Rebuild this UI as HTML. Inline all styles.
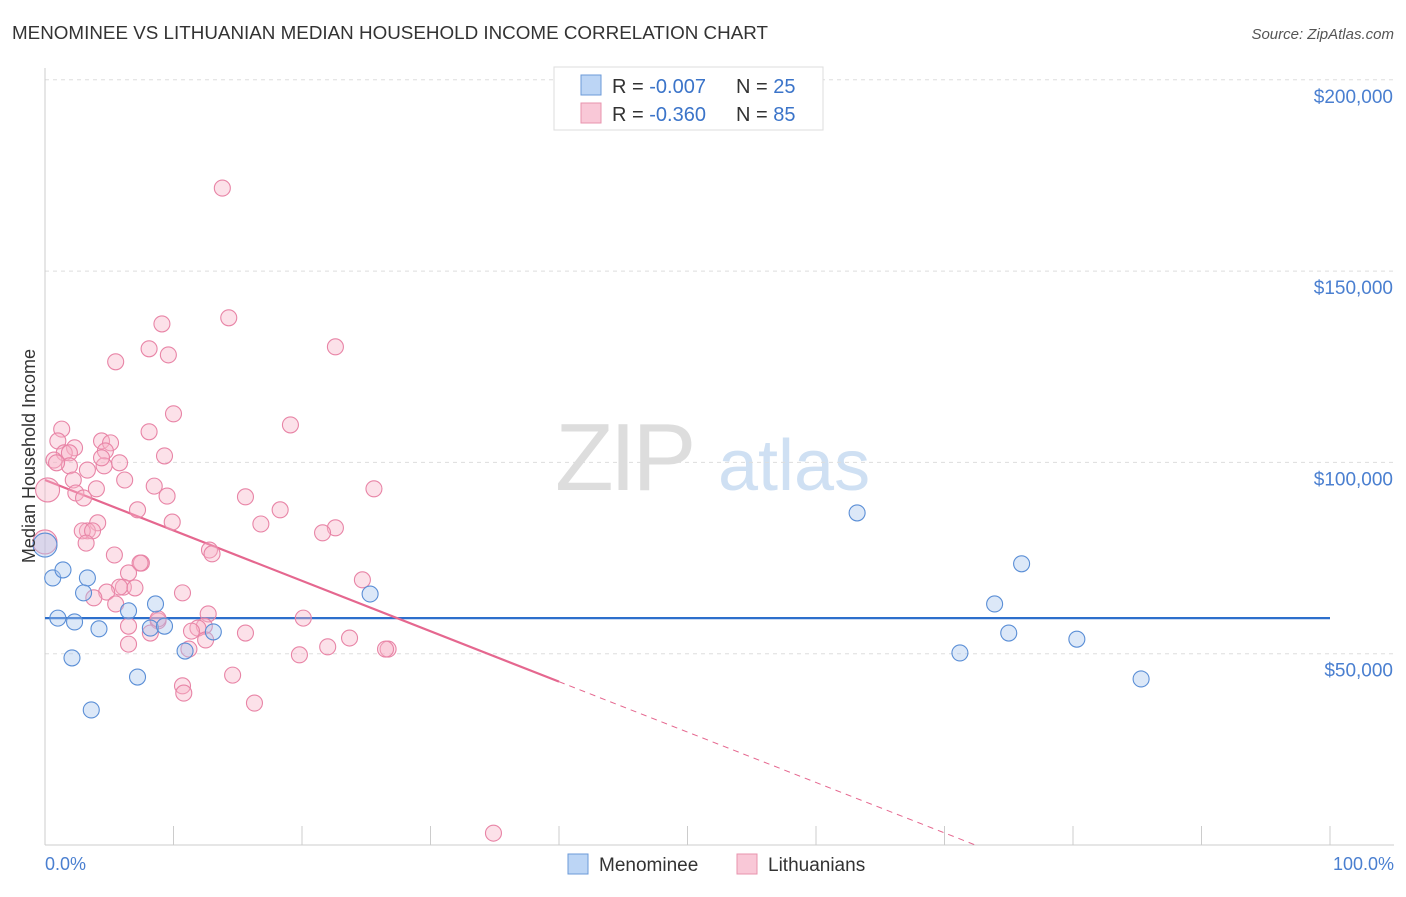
<!DOCTYPE html>
<html><head><meta charset="utf-8"><style>
body{margin:0;background:#fff;font-family:"Liberation Sans",sans-serif}
svg text{font-family:"Liberation Sans",sans-serif}
</style></head><body>
<svg id="chart" width="1406" height="892" viewBox="0 0 1406 892" xmlns="http://www.w3.org/2000/svg">
<text x="12" y="39" font-size="18" fill="#333" textLength="756" lengthAdjust="spacingAndGlyphs">MENOMINEE VS LITHUANIAN MEDIAN HOUSEHOLD INCOME CORRELATION CHART</text>
<text x="1394" y="39" font-size="15" fill="#555" font-style="italic" text-anchor="end">Source: ZipAtlas.com</text>
<g><text x="555" y="490" font-size="96" fill="#ddd" font-family="Liberation Serif" letter-spacing="-4">ZIP</text><text x="718" y="490" font-size="72" fill="#cfe0f3">atlas</text></g>
<g id="grid"></g>
<g id="axes"></g>
<g id="lines"></g>
<g id="pts"></g>
<text x="35" y="456" font-size="18" fill="#333" text-anchor="middle" transform="rotate(-90 35 456)">Median Household Income</text>
<text x="45" y="870" font-size="18" fill="#4a7fd0">0.0%</text>
<text x="1394" y="870" font-size="18" fill="#4a7fd0" text-anchor="end">100.0%</text>
<g>
<rect x="554" y="67" width="269" height="63" fill="#fff" stroke="#ddd"/>
<rect x="581" y="75" width="20" height="20" fill="#bcd5f5" stroke="#6b9ad8"/>
<rect x="581" y="103" width="20" height="20" fill="#f9c8d7" stroke="#e893ae"/>
<text x="612" y="93" font-size="20" fill="#333">R = <tspan fill="#3b74c9">-0.007</tspan></text>
<text x="736" y="93" font-size="20" fill="#333">N = <tspan fill="#3b74c9">25</tspan></text>
<text x="612" y="121" font-size="20" fill="#333">R = <tspan fill="#3b74c9">-0.360</tspan></text>
<text x="736" y="121" font-size="20" fill="#333">N = <tspan fill="#3b74c9">85</tspan></text>
</g>
<g>
<rect x="568" y="854" width="20" height="20" fill="#bcd5f5" stroke="#6b9ad8"/>
<text x="599" y="871" font-size="19" fill="#333">Menominee</text>
<rect x="737" y="854" width="20" height="20" fill="#f9c8d7" stroke="#e893ae"/>
<text x="768" y="871" font-size="19" fill="#333">Lithuanians</text>
</g>
</svg>
<script>
const yTicks=[50000,100000,150000,200000];
const yTickLabels=["$50,000","$100,000","$150,000","$200,000"];
const xTicks=[0,10,20,30,40,50,60,70,80,90,100];
const blueX=[0,0.6,1.4,1.0,2.3,2.1,3.3,3.0,4.2,3.6,6.5,7.2,8.6,8.2,9.3,10.9,13.1,25.3,63.2,71.2,73.9,75.0,76.0,80.3,85.3];
const blueY=[78.4,69.8,71.9,59.3,58.3,48.9,69.8,65.9,56.5,35.3,61.2,43.9,63.0,56.7,57.2,50.7,55.7,65.6,86.8,50.2,63.0,55.4,73.5,53.8,43.4];
const pinkX=[13.8,14.3,9.1,5.5,8.1,9.6,22.6,10.0,19.1,1.3,8.1,1.0,4.4,5.1,2.3,1.5,1.9,4.7,0.7,9.3,5.8,1.9,4.6,3.3,2.2,6.2,4.0,8.5,25.6,2.4,0.2,3.0,9.5,15.6,7.2,18.3,4.1,9.9,16.8,3.3,2.9,3.7,22.6,21.6,0,3.2,12.8,13.0,5.4,7.5,7.4,6.5,24.7,6.1,5.8,7.0,4.8,3.8,10.7,5.5,12.7,20.1,6.5,8.8,12.4,11.9,11.4,8.2,15.6,12.5,23.7,22.0,6.5,26.7,26.5,19.8,11.2,10.7,10.8,14.6,16.3,34.9,0.9,4.4,8.8];
const pinkY=[171.7,137.8,136.2,126.3,129.7,128.1,130.2,112.7,109.8,108.7,108.0,105.6,105.6,105.1,103.8,102.5,102.5,103.0,100.6,101.7,99.9,99.1,99.1,98.0,95.4,95.4,93.1,93.8,93.1,92.0,92.8,90.7,91.2,91.0,87.6,87.6,84.2,84.4,83.9,82.1,82.1,82.1,82.9,81.6,79.2,78.9,77.1,76.1,75.8,73.7,73.7,71.1,69.3,67.4,67.4,67.2,66.1,64.6,65.9,63.0,60.4,59.3,57.2,58.6,57.2,56.7,55.9,55.4,55.4,53.6,54.1,51.8,52.5,51.2,51.2,49.7,51.2,41.6,39.7,44.4,37.1,3.1,99.9,101.2,59.1];
const blueTrend=[59300,59300];
const pinkTrend=[95400,0]; const pinkZeroX=72.4; const pinkSolidEnd=40;
const NS="http://www.w3.org/2000/svg";
const X=p=>45+p*12.85, Y=v=>845-v*191.3/50000;
function mk(t,a,parent){const e=document.createElementNS(NS,t);for(const k in a)e.setAttribute(k,a[k]);parent.appendChild(e);return e;}
const grid=document.getElementById('grid'),axes=document.getElementById('axes'),lines=document.getElementById('lines'),pts=document.getElementById('pts');
yTicks.forEach((v,i)=>{
 const l=mk('line',{x1:45,x2:1394,y1:Y(v),y2:Y(v),stroke:'#ddd','stroke-dasharray':'4 4'},grid);
 
 
 const t=mk('text',{x:1393,y:Y(v)+23,'font-size':19,fill:'#4a7fd0','text-anchor':'end'},grid);
 t.textContent=yTickLabels[i];
 
 
});
const ya=mk('line',{x1:45,x2:45,y1:68,y2:845,stroke:'#ccc'},axes);


const xa=mk('line',{x1:45,x2:1394,y1:845,y2:845,stroke:'#ccc'},axes);


xTicks.forEach(p=>{
 const k=mk('line',{x1:X(p),x2:X(p),y1:826,y2:845,stroke:'#ccc'},axes);
 
 
});
function dot(x,y,r,fill,stroke,name){
 const c=mk('circle',{cx:X(x),cy:Y(y*1000),r:r,fill:fill,'fill-opacity':0.4,stroke:stroke,'stroke-width':1.1},pts);
 
 
}
pinkX.forEach((x,i)=>dot(x,pinkY[i],x<0.5?12:8,'#f7b3c8','#e884a6','lithuanian-point'));
blueX.forEach((x,i)=>dot(x,blueY[i],x<0.5?12:8,'#a8c6ee','#5a8ed6','menominee-point'));
const bl=mk('line',{x1:X(0),x2:X(100),y1:Y(blueTrend[0]),y2:Y(blueTrend[1]),stroke:'#2d6fcc','stroke-width':2.2},lines);


const pv=p=>pinkTrend[0]+(pinkTrend[1]-pinkTrend[0])*p/pinkZeroX;
const ps=mk('line',{x1:X(0),x2:X(pinkSolidEnd),y1:Y(pv(0)),y2:Y(pv(pinkSolidEnd)),stroke:'#e5678f','stroke-width':2.2},lines);


const pd=mk('line',{x1:X(pinkSolidEnd),x2:X(pinkZeroX),y1:Y(pv(pinkSolidEnd)),y2:Y(0),stroke:'#e5678f','stroke-width':1,'stroke-dasharray':'6 5'},lines);


</script>
</body></html>
